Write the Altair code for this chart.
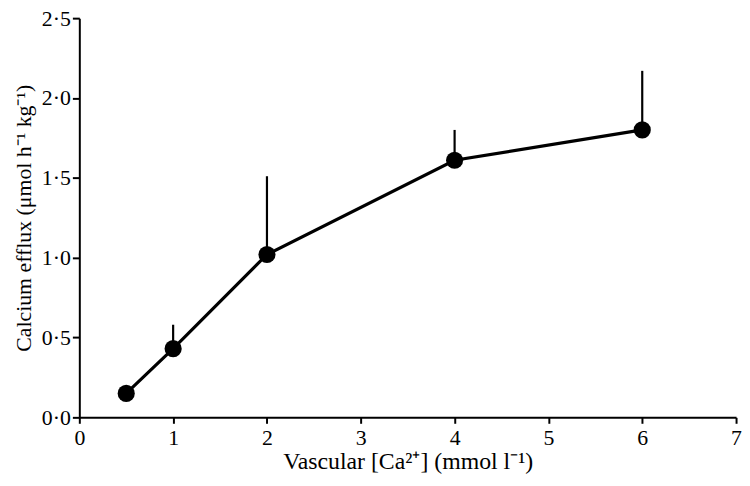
import altair as alt
import pandas as pd

conc = [0.5, 1, 2, 4, 6]
efflux = [0.15, 0.43, 1.02, 1.61, 1.80]
err_top = [0.15, 0.58, 1.51, 1.80, 2.17]

df = pd.DataFrame({"conc": conc, "efflux": efflux, "top": err_top})

FONT = "Liberation Serif"

x = alt.X("conc:Q", scale=alt.Scale(domain=[0, 7], nice=False),
          axis=alt.Axis(title="Vascular [Ca²⁺] (mmol l⁻¹)", values=[0, 1, 2, 3, 4, 5, 6, 7],
                        grid=False, domainColor="black", domainWidth=2, tickColor="black",
                        tickWidth=2, tickSize=6, labelFont=FONT, labelFontSize=22,
                        labelColor="black", titleFont=FONT, titleFontSize=24,
                        titleFontWeight="normal", titleColor="black", labelPadding=4,
                        titlePadding=2, labelFlush=False))
y = alt.Y("efflux:Q", scale=alt.Scale(domain=[0, 2.5], nice=False),
          axis=alt.Axis(title="Calcium efflux (μmol h⁻¹ kg⁻¹)", values=[0, 0.5, 1, 1.5, 2, 2.5],
                        labelExpr="replace(format(datum.value, '.1f'), '.', '·')",
                        grid=False, domainColor="black", domainWidth=2, tickColor="black",
                        tickWidth=2, tickSize=7, labelFont=FONT, labelFontSize=22,
                        labelColor="black", titleFont=FONT, titleFontSize=22,
                        titleFontWeight="normal", titleColor="black", labelPadding=2,
                        titlePadding=6, labelFlush=False))

base = alt.Chart(df)
err = base.mark_rule(color="black", strokeWidth=2.2).encode(x=x, y=y, y2="top:Q")
line = base.mark_line(color="black", strokeWidth=3.2).encode(x=x, y=y)
pts = base.mark_point(filled=True, color="black", size=300, opacity=1).encode(x=x, y=y)

chart = (err + line + pts).properties(
    width=663, height=403,
    autosize=alt.AutoSizeParams(type="none"),
    padding={"left": 72, "top": 8, "right": 6, "bottom": 60},
).configure(background="white").configure_view(stroke=None)

chart.save("out.html", embed_options={"renderer": "svg", "actions": False})
